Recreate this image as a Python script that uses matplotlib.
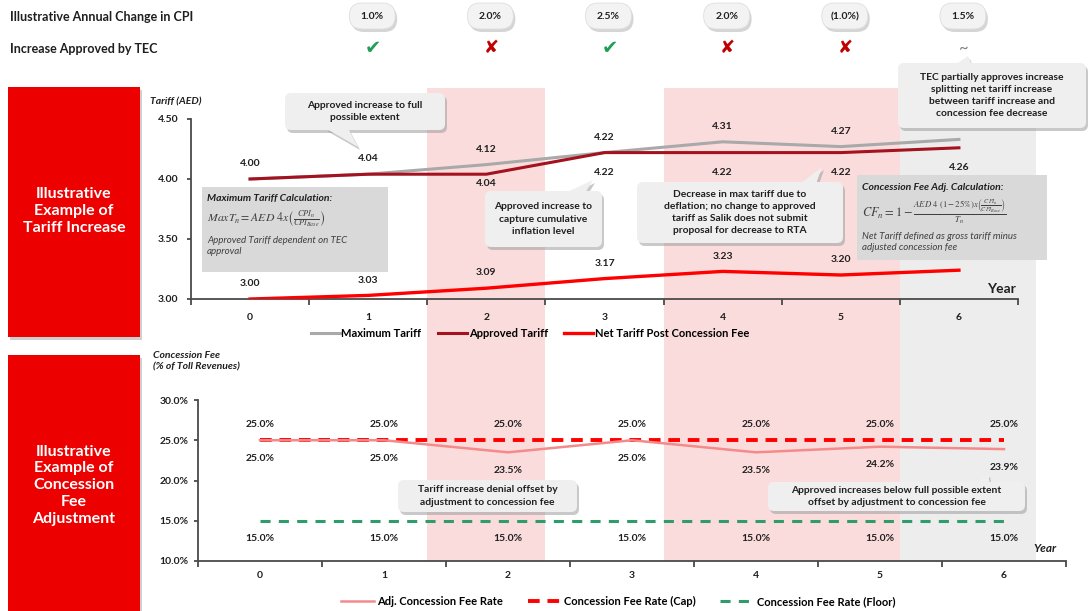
import matplotlib.pyplot as plt
from matplotlib.patches import FancyBboxPatch, Rectangle, Polygon
from matplotlib.transforms import blended_transform_factory

plt.rcParams["font.family"] = ["Lato", "DejaVu Sans"]
plt.rcParams["mathtext.fontset"] = "stix"

# --- data ---
years = [0, 1, 2, 3, 4, 5, 6]
cpi_years = [1, 2, 3, 4, 5, 6]
cpi_change = ["1.0%", "2.0%", "2.5%", "2.0%", "(1.0%)", "1.5%"]
tec_approval = ["yes", "no", "yes", "no", "no", "partial"]

max_tariff = [4.00, 4.04, 4.12, 4.22, 4.31, 4.27, 4.33]
approved_tariff = [4.00, 4.04, 4.04, 4.22, 4.22, 4.22, 4.26]
net_tariff = [3.00, 3.03, 3.09, 3.17, 3.23, 3.20, 3.24]
tariff_ticks = [3.00, 3.50, 4.00, 4.50]

adj_fee = [25.0, 25.0, 23.5, 25.0, 23.5, 24.2, 23.9]
fee_cap = [25.0, 25.0, 25.0, 25.0, 25.0, 25.0, 25.0]
fee_floor = [15.0, 15.0, 15.0, 15.0, 15.0, 15.0, 15.0]
fee_ticks = [10.0, 15.0, 20.0, 25.0, 30.0]

# --- styling ---
GREY_LINE = "#a9a9a9"
DARK_RED = "#a3121e"
RED = "#ff0000"
PINK_LINE = "#f58a8a"
GREEN = "#2f9c6c"
SHADE_PINK = "#fbdcdc"
SHADE_GREY = "#ededed"
PANEL_RED = "#ec0000"
TXT = "#1f1f1f"
SPINE = "#4a4a4a"
BOX = "#efefef"

W, H = 1089, 611
fig = plt.figure(figsize=(W / 100, H / 100), dpi=100)

ax1 = fig.add_axes([191 / W, 1 - 299 / H, 827 / W, 180 / H], facecolor="none")
ax2 = fig.add_axes([198 / W, 1 - 561 / H, 868 / W, 161 / H], facecolor="none")

# pixel overlays (y pointing down) for background shapes and annotations
bg = fig.add_axes([0, 0, 1, 1], zorder=-1)
fg = fig.add_axes([0, 0, 1, 1], zorder=5)
for a in (bg, fg):
    a.set_xlim(0, W)
    a.set_ylim(H, 0)
    a.axis("off")


def style_axes(ax, ymin, ymax, ticks, fmt, xpad, ypad):
    ax.set_xlim(-0.5, 6.5)
    ax.set_ylim(ymin, ymax)
    ax.set_yticks(ticks)
    ax.set_yticklabels([fmt.format(t) for t in ticks])
    ax.set_xticks(years)
    ax.set_xticks([y - 0.5 for y in years] + [6.5], minor=True)
    for s in ("top", "right"):
        ax.spines[s].set_visible(False)
    for s in ("left", "bottom"):
        ax.spines[s].set_color(SPINE)
        ax.spines[s].set_linewidth(1.3)
    ax.tick_params(axis="x", which="major", length=0, pad=xpad)
    ax.tick_params(axis="x", which="minor", length=4, width=1.3, color=SPINE)
    ax.tick_params(axis="y", length=3, width=1.3, color=SPINE, pad=ypad)
    for lab in ax.get_xticklabels() + ax.get_yticklabels():
        lab.set_fontweight("bold")
        lab.set_fontsize(7.5)
        lab.set_color(TXT)


def value_label(ax, x, y, txt, dy):
    ax.annotate(txt, (x, y), xytext=(0, dy), textcoords="offset points",
                ha="center", va="center", fontsize=7.5, fontweight="bold", color=TXT)


# --- top chart: tariffs ---
style_axes(ax1, 3.0, 4.5, tariff_ticks, "{:.2f}", 10, 6)
ax1.plot(years, max_tariff, color=GREY_LINE, lw=2.2, label="Maximum Tariff", zorder=2)
ax1.plot(years, approved_tariff, color=DARK_RED, lw=2.2, label="Approved Tariff", zorder=3)
ax1.plot(years, net_tariff, color=RED, lw=2.4, label="Net Tariff Post Concession Fee", zorder=3)

for x, v in zip(years[:6], max_tariff[:6]):
    value_label(ax1, x, v, f"{v:.2f}", 11)
for x, v in zip(years[2:], approved_tariff[2:]):
    value_label(ax1, x, v, f"{v:.2f}", -7 if x == 2 else -14)
for x, v in zip(years[:6], net_tariff[:6]):
    value_label(ax1, x, v, f"{v:.2f}", 11)

ax1.legend(loc="center", bbox_to_anchor=(0.41, -0.19), ncol=3, frameon=False,
           prop={"weight": "bold", "size": 8}, handlelength=2.6, handletextpad=0.15,
           columnspacing=1.5)
ax1.text(-0.05, 1.094, "Tariff (AED)", transform=ax1.transAxes, fontsize=7.5,
         fontweight="bold", style="italic", color=TXT, va="center")
ax1.text(0.962, 0.055, "Year", transform=ax1.transAxes, fontsize=10,
         fontweight="bold", color=TXT, va="center")

# --- bottom chart: concession fee ---
style_axes(ax2, 10.0, 30.0, fee_ticks, "{:.1f}%", 7, 4)
ax2.plot(years, adj_fee, color=PINK_LINE, lw=1.8, label="Adj. Concession Fee Rate", zorder=3)
ax2.plot(years, fee_cap, color=RED, lw=2.8, dashes=(3, 2), label="Concession Fee Rate (Cap)", zorder=2)
ax2.plot(years, fee_floor, color=GREEN, lw=2.2, dashes=(3.3, 2.7), label="Concession Fee Rate (Floor)", zorder=2)

for x, v in zip(years, fee_cap):
    value_label(ax2, x, v, f"{v:.1f}%", 11)
for x, v in zip(years, adj_fee):
    value_label(ax2, x, v, f"{v:.1f}%", -13)
for x, v in zip(years, fee_floor):
    value_label(ax2, x, v, f"{v:.1f}%", -12.5)

ax2.legend(loc="center", bbox_to_anchor=(0.484, -0.25), ncol=3, frameon=False,
           prop={"weight": "bold", "size": 8}, handlelength=3.0, handletextpad=0.3,
           columnspacing=2.2)
ax2.text(-0.052, 1.24, "Concession Fee\n(% of Toll Revenues)", transform=ax2.transAxes,
         fontsize=7.5, fontweight="bold", style="italic", color=TXT, va="center",
         linespacing=1.35)
ax2.text(0.962, 0.08, "Year", transform=ax2.transAxes, fontsize=8.5,
         fontweight="bold", style="italic", color=TXT, va="center")

# --- background: shaded year bands and red side panels ---
band = blended_transform_factory(ax1.transData, bg.transData)
bg.add_patch(Rectangle((1.5, 88), 1.0, 473, transform=band, fc=SHADE_PINK, ec="none"))
bg.add_patch(Rectangle((3.5, 88), 2.0, 473, transform=band, fc=SHADE_PINK, ec="none"))
bg.add_patch(Rectangle((5.5, 88), 1.15, 473, transform=band, fc=SHADE_GREY, ec="none"))

for y0, y1 in [(87, 337), (355, 614)]:
    bg.add_patch(Rectangle((10, y0 + 3), 132, y1 - y0, fc="#a0a0a0", ec="none", alpha=0.5))
    bg.add_patch(Rectangle((8, y0), 132, y1 - y0, fc=PANEL_RED, ec="none"))
fg.text(74, 211, "Illustrative\nExample of\nTariff Increase", ha="center", va="center",
        color="white", fontsize=11.5, fontweight="bold", linespacing=1.25)
fg.text(74, 485, "Illustrative\nExample of\nConcession\nFee\nAdjustment", ha="center",
        va="center", color="white", fontsize=11.5, fontweight="bold", linespacing=1.25)

# --- header rows: CPI change pills and TEC approval marks ---
fg.text(10, 17, "Illustrative Annual Change in CPI", fontsize=9, fontweight="bold",
        color=TXT, va="center")
fg.text(10, 49, "Increase Approved by TEC", fontsize=9, fontweight="bold",
        color=TXT, va="center")


def year_px(ax, yr):
    disp = ax.transData.transform((yr, ax.get_ylim()[0]))
    return fg.transData.inverted().transform(disp)[0]


marks = {"yes": ("\u2714", "#1f9e55", 14), "no": ("\u2718", "#c00000", 13),
         "partial": ("~", "#808080", 12)}
for yr, cpi, ok in zip(cpi_years, cpi_change, tec_approval):
    cx = year_px(ax1, yr) + 5
    fg.add_patch(FancyBboxPatch((cx - 22, 6), 46, 26, boxstyle="round,pad=0,rounding_size=13",
                                fc="#b9b9b9", ec="none", alpha=0.6))
    fg.add_patch(FancyBboxPatch((cx - 24, 3), 46, 26, boxstyle="round,pad=0,rounding_size=13",
                                fc="#f3f3f3", ec="#dedede", lw=0.6))
    fg.text(cx - 1, 16.5, cpi, ha="center", va="center", fontsize=7.5, fontweight="bold", color=TXT)
    sym, col, sz = marks[ok]
    fg.text(cx, 48, sym, ha="center", va="center", fontsize=sz, color=col)


# --- callouts ---
def callout(x0, y0, x1, y1, text, tail=None):
    shadow = dict(fc="#9d9d9d", ec="none", alpha=0.55)
    style = "round,pad=0,rounding_size=6"
    if tail:
        fg.add_patch(Polygon([(x + 2, y + 3) for x, y in tail], closed=True, **shadow))
    fg.add_patch(FancyBboxPatch((x0 + 2, y0 + 3), x1 - x0, y1 - y0, boxstyle=style, **shadow))
    if tail:
        fg.add_patch(Polygon(tail, closed=True, fc=BOX, ec="none"))
    fg.add_patch(FancyBboxPatch((x0, y0), x1 - x0, y1 - y0, boxstyle=style, fc=BOX, ec="none"))
    fg.text((x0 + x1) / 2, (y0 + y1) / 2, text, ha="center", va="center", fontsize=7.4,
            fontweight="bold", color=TXT, linespacing=1.45)


callout(285, 93, 445, 130, "Approved increase to full\npossible extent",
        tail=[(325, 128), (348, 128), (358, 147)])
callout(485, 191, 602, 247, "Approved increase to\ncapture cumulative\ninflation level",
        tail=[(565, 193), (585, 193), (593, 180)])
callout(637, 182, 843, 243, "Decrease in max tariff due to\ndeflation; no change to approved\n"
        "tariff as Salik does not submit\nproposal for decrease to RTA",
        tail=[(800, 184), (816, 184), (822, 167)])
callout(898, 63, 1086, 128, "TEC partially approves increase\nsplitting net tariff increase\n"
        "between tariff increase and\nconcession fee decrease",
        tail=[(955, 65), (972, 65), (968, 56)])
callout(398, 480, 577, 512, "Tariff increase denial offset by\nadjustment to concession fee")
callout(768, 482, 1025, 511, "Approved increases below full possible extent\n"
        "offset by adjustment to concession fee",
        tail=[(974, 484), (990, 484), (988, 474)])

# --- formula boxes ---
fg.add_patch(Rectangle((202, 187), 186, 85, fc="#d9d9d9", ec="none"))
fg.text(207, 199, "Maximum Tariff Calculation:", fontsize=7.5, fontweight="bold",
        style="italic", color=TXT, va="center")
fg.text(207, 219, r"$MaxT_n = AED\ 4x\left(\frac{CPI_n}{CPI_{Base}}\right)$",
        fontsize=8.5, color="#404040", va="center")
fg.text(207, 236, "Approved Tariff dependent on TEC\napproval", fontsize=7,
        style="italic", color="#404040", va="top", linespacing=1.35)

fg.add_patch(Rectangle((857, 175), 190, 85, fc="#d9d9d9", ec="none"))
fg.text(862, 187, "Concession Fee Adj. Calculation:", fontsize=7.5, fontweight="bold",
        style="italic", color=TXT, va="center")
fg.text(862, 212, r"$CF_n = 1 - \frac{AED\ 4\ (1-25\%)x\left(\frac{CPI_n}{CPI_{Base}}\right)}{T_n}$",
        fontsize=9, color="#404040", va="center")
fg.text(862, 232, "Net Tariff defined as gross tariff minus\nadjusted concession fee",
        fontsize=7, style="italic", color="#404040", va="top", linespacing=1.35)

fig.savefig("out.png", dpi=100)
